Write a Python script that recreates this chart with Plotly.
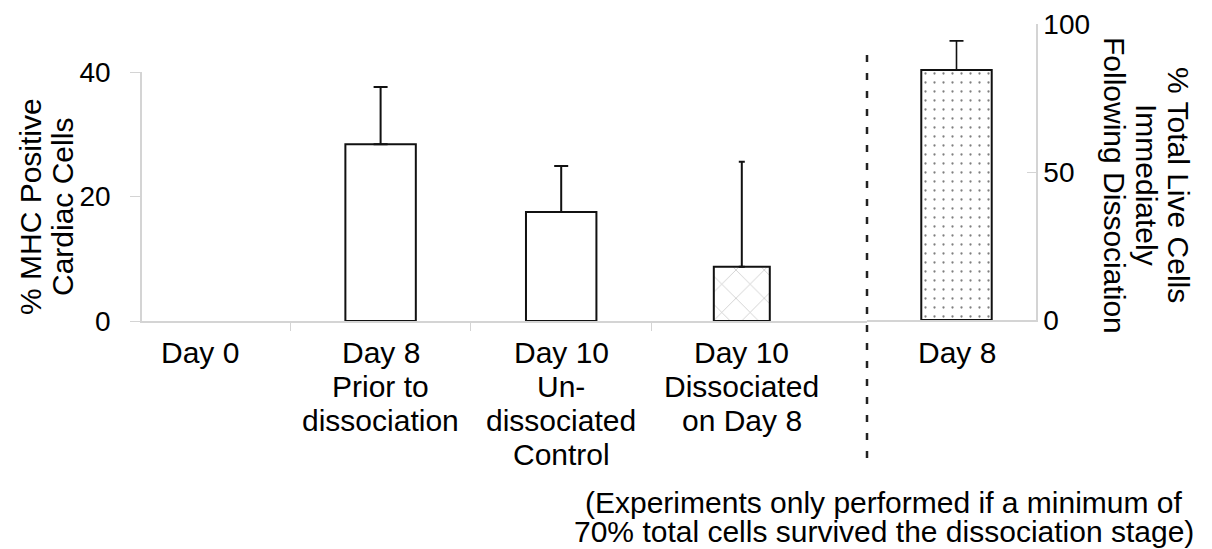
import plotly.graph_objects as go

# ---- data -------------------------------------------------------------
mhc_labels = [
    ["Day 0"],
    ["Day 8", "Prior to", "dissociation"],
    ["Day 10", "Un-", "dissociated", "Control"],
    ["Day 10", "Dissociated", "on Day 8"],
]
mhc_pct = [0, 28.4, 17.5, 8.7]          # % MHC positive cardiac cells
mhc_err = [0, 9.2, 7.4, 16.9]           # upper error

live_labels = [["Day 8"]]
live_pct = [84.5]                        # % total live cells after dissociation
live_err = [9.8]

left_ticks = [0, 20, 40]
right_ticks = [0, 50, 100]
left_title = ["% MHC Positive", "Cardiac Cells"]
right_title = ["% Total Live Cells", "Immediately", "Following Dissociation"]
note_lines = ["(Experiments only performed if a minimum of",
              "70% total cells survived the dissociation stage)"]

# ---- styling ----------------------------------------------------------
W, H = 1212, 549
FONT = "Liberation Sans, Arial, sans-serif"
AXIS_GREY = "#d4d4d4"
INK = "#111111"

bar_widths = [0.39, 0.39, 0.39, 0.31]
bar_patterns = ["", "", "", "x"]
cap_widths = [0, 7, 7, 3]


def fx(p):
    return p / W


def fy(p):
    return 1 - p / H


# horizontal scale: category index -> pixel
CAT0, STEP = 200.0, 180.6
LEFT_EDGE, SPLIT, RIGHT_EDGE = 142.0, 867.0, 1036.0
LIVE_CENTER = 956.5

fig = go.Figure()

for i, (val, err) in enumerate(zip(mhc_pct, mhc_err)):
    fig.add_trace(go.Bar(
        x=[i], y=[val], width=bar_widths[i],
        xaxis="x", yaxis="y",
        marker=dict(
            color="white",
            line=dict(color=INK, width=2 if val > 0 else 0),
            pattern=dict(shape=bar_patterns[i], size=20, solidity=0.07,
                         fgcolor="#888888", bgcolor="white", fillmode="overlay"),
        ),
        error_y=dict(type="data", symmetric=False, array=[err], arrayminus=[0],
                     visible=err > 0, color=INK, thickness=2, width=cap_widths[i]),
        showlegend=False, hoverinfo="skip",
    ))

for i, (val, err) in enumerate(zip(live_pct, live_err)):
    fig.add_trace(go.Bar(
        x=[i], y=[val], width=0.39,
        xaxis="x2", yaxis="y2",
        marker=dict(
            color="white",
            line=dict(color=INK, width=2),
            pattern=dict(shape=".", size=9, solidity=0.05,
                         fgcolor="#000000", bgcolor="white", fillmode="overlay"),
        ),
        error_y=dict(type="data", symmetric=False, array=[err], arrayminus=[0],
                     color=INK, thickness=1.6, width=7),
        showlegend=False, hoverinfo="skip",
    ))

axis_common = dict(showgrid=False, zeroline=False, showline=True, automargin=False,
                   linecolor=AXIS_GREY, linewidth=1.5, tickcolor=AXIS_GREY)
tick_font = dict(family=FONT, size=28, color="black")

fig.update_layout(
    width=W, height=H, margin=dict(l=0, r=0, t=0, b=0, autoexpand=False),
    paper_bgcolor="white", plot_bgcolor="white",
    barmode="overlay",
    font=dict(family=FONT, color="black"),
    xaxis=dict(
        domain=[fx(LEFT_EDGE), fx(SPLIT)], anchor="y", type="linear",
        range=[(LEFT_EDGE - CAT0) / STEP, (SPLIT - CAT0) / STEP],
        tickvals=[k + 0.5 for k in range(len(mhc_pct) - 1)],
        ticks="outside", ticklen=8, showticklabels=False,
        **axis_common,
    ),
    xaxis2=dict(
        domain=[fx(SPLIT), fx(RIGHT_EDGE)], anchor="y2", type="linear",
        range=[(SPLIT - LIVE_CENTER) / STEP, (RIGHT_EDGE - LIVE_CENTER) / STEP],
        ticks="", showticklabels=False,
        **axis_common,
    ),
    yaxis=dict(
        domain=[fy(321), fy(72)], anchor="x", range=[0, 40],
        tickvals=left_ticks, ticks="outside", ticklen=10, tickfont=tick_font,
        ticklabelstandoff=14,
        **axis_common,
    ),
    yaxis2=dict(
        domain=[fy(320), fy(24)], anchor="x2", side="right", range=[0, 100],
        tickvals=right_ticks, ticks="inside", ticklen=9, tickfont=tick_font,
        **axis_common,
    ),
)

annotations = []
LINE_TOP, LINE_STEP = 352, 34.3
for i, lines in enumerate(mhc_labels):
    for k, line in enumerate(lines):
        annotations.append(dict(
            xref="x", yref="paper", x=i, y=fy(LINE_TOP + k * LINE_STEP),
            text=line, showarrow=False, xanchor="center", yanchor="middle",
            font=dict(family=FONT, size=30, color="black")))
for i, lines in enumerate(live_labels):
    for k, line in enumerate(lines):
        annotations.append(dict(
            xref="x2", yref="paper", x=i, y=fy(LINE_TOP + k * LINE_STEP),
            text=line, showarrow=False, xanchor="center", yanchor="middle",
            font=dict(family=FONT, size=30, color="black")))

for k, line in enumerate(left_title):
    annotations.append(dict(
        xref="paper", yref="paper", x=fx(30 + k * 32), y=fy(207),
        text=line, textangle=-90, showarrow=False,
        xanchor="center", yanchor="middle",
        font=dict(family=FONT, size=30, color="black")))

for k, line in enumerate(right_title):
    annotations.append(dict(
        xref="paper", yref="paper", x=fx(1179 - k * 32), y=fy(185),
        text=line, textangle=90, showarrow=False,
        xanchor="center", yanchor="middle",
        font=dict(family=FONT, size=30, color="black")))

for k, line in enumerate(note_lines):
    annotations.append(dict(
        xref="paper", yref="paper", x=fx(884), y=fy(502.5 + k * 28.5),
        text=line, showarrow=False, xanchor="center", yanchor="middle",
        font=dict(family=FONT, size=30, color="black")))

fig.update_layout(annotations=annotations)

# dashed separator between the two panels
fig.add_shape(type="line", xref="paper", yref="paper",
              x0=fx(SPLIT), x1=fx(SPLIT), y0=fy(55), y1=fy(467),
              line=dict(color="#222222", width=2.5, dash="7px,11px"))

fig.write_html("out.html")
